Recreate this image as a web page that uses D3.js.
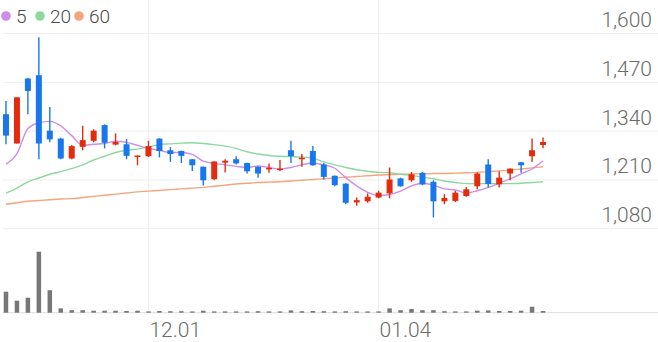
<!DOCTYPE html>
<html>
<head>
<meta charset="utf-8">
<script src="https://cdn.jsdelivr.net/npm/d3@7"></script>
<style>
  html, body { margin: 0; padding: 0; background: #fff; }
  svg text { font-family: Roboto, "Noto Sans", sans-serif; }
</style>
</head>
<body>
<svg id="chart" width="658" height="342"></svg>
<script>
// ── Data ──
const dates = ["11.12","11.13","11.16","11.17","11.18","11.19","11.20","11.23","11.24","11.25",
  "11.26","11.27","11.30","12.01","12.02","12.03","12.04","12.07","12.08","12.09",
  "12.10","12.11","12.14","12.15","12.16","12.17","12.18","12.21","12.22","12.23",
  "12.24","12.28","12.29","12.30","01.04","01.05","01.06","01.07","01.08","01.11",
  "01.12","01.13","01.14","01.15","01.18","01.19","01.20","01.21","01.22","01.25"];

const open  = [1385,1307,1480,1489,1341,1320,1267,1298,1314,1356,1304,1305,1272,1273,1320,1289,1287,1265,1245,1212,
               1256,1265,1255,1245,1238,1236,1289,1267,1287,1251,1221,1200,1150,1153,1163,1174,1214,1209,1229,1205,
               1153,1154,1167,1193,1251,1198,1227,1257,1273,1303];
const high  = [1420,1430,1482,1590,1404,1322,1303,1354,1345,1358,1334,1319,1275,1314,1321,1297,1288,1266,1246,1260,
               1265,1273,1256,1246,1254,1263,1314,1279,1300,1255,1222,1201,1163,1174,1181,1243,1216,1231,1231,1209,
               1172,1181,1191,1230,1265,1233,1241,1258,1320,1323];
const low   = [1305,1307,1385,1265,1310,1265,1265,1289,1310,1294,1302,1265,1249,1271,1270,1258,1255,1234,1195,1209,
               1230,1251,1227,1216,1229,1234,1255,1245,1248,1211,1193,1145,1141,1149,1161,1161,1192,1205,1196,1110,
               1145,1151,1165,1185,1190,1190,1209,1229,1258,1294];
const close = [1328,1430,1447,1307,1318,1267,1300,1316,1341,1309,1311,1274,1275,1300,1287,1279,1274,1249,1209,1259,
               1261,1254,1233,1227,1242,1240,1273,1269,1249,1218,1196,1149,1156,1165,1176,1211,1193,1225,1198,1153,
               1162,1176,1185,1227,1199,1216,1240,1249,1289,1311];

const ma5  = [1252,1280,1347,1362,1366,1354,1328,1302,1305,1307,1313,1310,1302,1294,1289,1283,1283,1278,1260,1254,
              1250,1246,1243,1247,1243,1239,1243,1250,1255,1250,1241,1216,1194,1177,1168,1171,1180,1194,1201,1196,
              1186,1183,1175,1181,1190,1201,1213,1226,1239,1261];
const ma20 = [1175,1188,1205,1215,1225,1232,1240,1250,1263,1273,1283,1289,1292,1298,1304,1306,1308,1309,1307,1304,
              1300,1294,1285,1279,1275,1273,1272,1271,1268,1258,1250,1243,1237,1233,1230,1229,1225,1222,1217,1213,
              1207,1203,1200,1200,1200,1200,1200,1201,1203,1205];
const ma60 = [1145,1149,1153,1155,1157,1159,1160,1163,1166,1169,1172,1175,1178,1180,1182,1184,1186,1188,1190,1193,
              1196,1199,1201,1203,1204,1205,1207,1209,1211,1213,1215,1217,1219,1221,1223,1224,1225,1226,1226,1227,
              1227,1228,1229,1230,1232,1234,1236,1239,1242,1245];

const volume = [840000,480000,600000,2440000,900000,172000,100000,100000,80000,80000,
                80000,68000,80000,52000,68000,60000,60000,52000,80000,52000,
                52000,52000,52000,60000,52000,52000,92000,60000,68000,60000,
                52000,60000,52000,52000,52000,172000,100000,148000,100000,100000,
                60000,52000,52000,80000,92000,68000,68000,80000,240000,68000];

const priceTicks = [1080, 1210, 1340, 1470, 1600];
const dateTicks  = ["12.01", "01.04"];

const maSeries = [
  { label: "5",  values: ma5,  color: "#cf8ce8" },
  { label: "20", values: ma20, color: "#8cd9a0" },
  { label: "60", values: ma60, color: "#f5a47f" }
];

// ── Layout ──
const W = 658, H = 342;
const SLOT = 10.96;         // one trading day
const PRICE_TOP = 33.5, PRICE_BOTTOM = 228.7;
const VOL_TOP = 251.7, VOL_BOTTOM = 312.7;
const UP = "#e32c0e", DOWN = "#1877ec";

const svg = d3.select("#chart");

const x = d3.scaleBand()
  .domain(dates)
  .range([0.5, 0.5 + SLOT * dates.length])
  .padding(0);
const cx = d => x(d) + x.bandwidth() / 2;

const y = d3.scaleLinear()
  .domain([priceTicks[0], priceTicks[priceTicks.length - 1]])
  .range([PRICE_BOTTOM, PRICE_TOP]);

const yVol = d3.scaleLinear()
  .domain([0, d3.max(volume)])
  .range([VOL_BOTTOM, VOL_TOP]);

// ── Grid ──
svg.append("g").selectAll("line")
  .data(priceTicks)
  .join("line")
  .attr("x1", 3).attr("x2", W)
  .attr("y1", d => y(d)).attr("y2", d => y(d))
  .attr("stroke", "#eeeeee").attr("stroke-width", 1);

svg.append("g").selectAll("line")
  .data(dateTicks)
  .join("line")
  .attr("x1", d => cx(d)).attr("x2", d => cx(d))
  .attr("y1", 0).attr("y2", VOL_BOTTOM)
  .attr("stroke", "#eeeeee").attr("stroke-width", 1);

svg.append("line")
  .attr("x1", 3).attr("x2", W)
  .attr("y1", VOL_BOTTOM).attr("y2", VOL_BOTTOM)
  .attr("stroke", "#dddddd").attr("stroke-width", 1);

// ── Price labels (right) ──
svg.append("g").selectAll("text")
  .data(priceTicks)
  .join("text")
  .attr("x", 652)
  .attr("y", d => y(d) - 6.5)
  .attr("text-anchor", "end")
  .attr("font-size", "21px")
  .attr("font-weight", 300)
  .attr("fill", "#6b6b6b")
  .text(d => d3.format(",")(d));

// ── Date labels ──
svg.append("g").selectAll("text")
  .data(dateTicks)
  .join("text")
  .attr("x", d => cx(d) + 1)
  .attr("y", 337)
  .attr("font-size", "21px")
  .attr("font-weight", 300)
  .attr("fill", "#6b6b6b")
  .text(d => d);

// ── Volume bars ──
svg.append("g").selectAll("rect")
  .data(volume)
  .join("rect")
  .attr("x", (d, i) => cx(dates[i]) - 2.25)
  .attr("width", 4.5)
  .attr("y", d => yVol(d))
  .attr("height", d => VOL_BOTTOM - yVol(d))
  .attr("fill", "#777777");

// ── Moving averages ──
const line = d3.line()
  .x((d, i) => cx(dates[i]))
  .y(d => y(d))
  .curve(d3.curveMonotoneX);

svg.append("g").selectAll("path")
  .data(maSeries.slice().reverse())
  .join("path")
  .attr("d", s => line(s.values))
  .attr("fill", "none")
  .attr("stroke", s => s.color)
  .attr("stroke-width", 1.4);

// ── Candles ──
const candles = svg.append("g").selectAll("g")
  .data(dates)
  .join("g")
  .attr("fill", (d, i) => close[i] >= open[i] ? UP : DOWN)
  .attr("stroke", (d, i) => close[i] >= open[i] ? UP : DOWN);

candles.append("line")
  .attr("x1", d => cx(d)).attr("x2", d => cx(d))
  .attr("y1", (d, i) => y(high[i]))
  .attr("y2", (d, i) => y(low[i]))
  .attr("stroke-width", 1.4);

candles.append("rect")
  .attr("x", d => cx(d) - 3)
  .attr("width", 6)
  .attr("y", (d, i) => y(Math.max(open[i], close[i])))
  .attr("height", (d, i) => Math.max(1.5, Math.abs(y(open[i]) - y(close[i]))))
  .attr("stroke", "none");

// ── Legend ──
const legend = svg.append("g");
const legendX = [6, 40, 79];
maSeries.forEach((s, i) => {
  legend.append("circle")
    .attr("cx", legendX[i]).attr("cy", 16).attr("r", 4.8)
    .attr("fill", s.color);
  legend.append("text")
    .attr("x", legendX[i] + 10).attr("y", 23)
    .attr("font-size", "19px")
    .attr("font-weight", 300)
    .attr("fill", "#4a4a4a")
    .text(s.label);
});
</script>
</body>
</html>
